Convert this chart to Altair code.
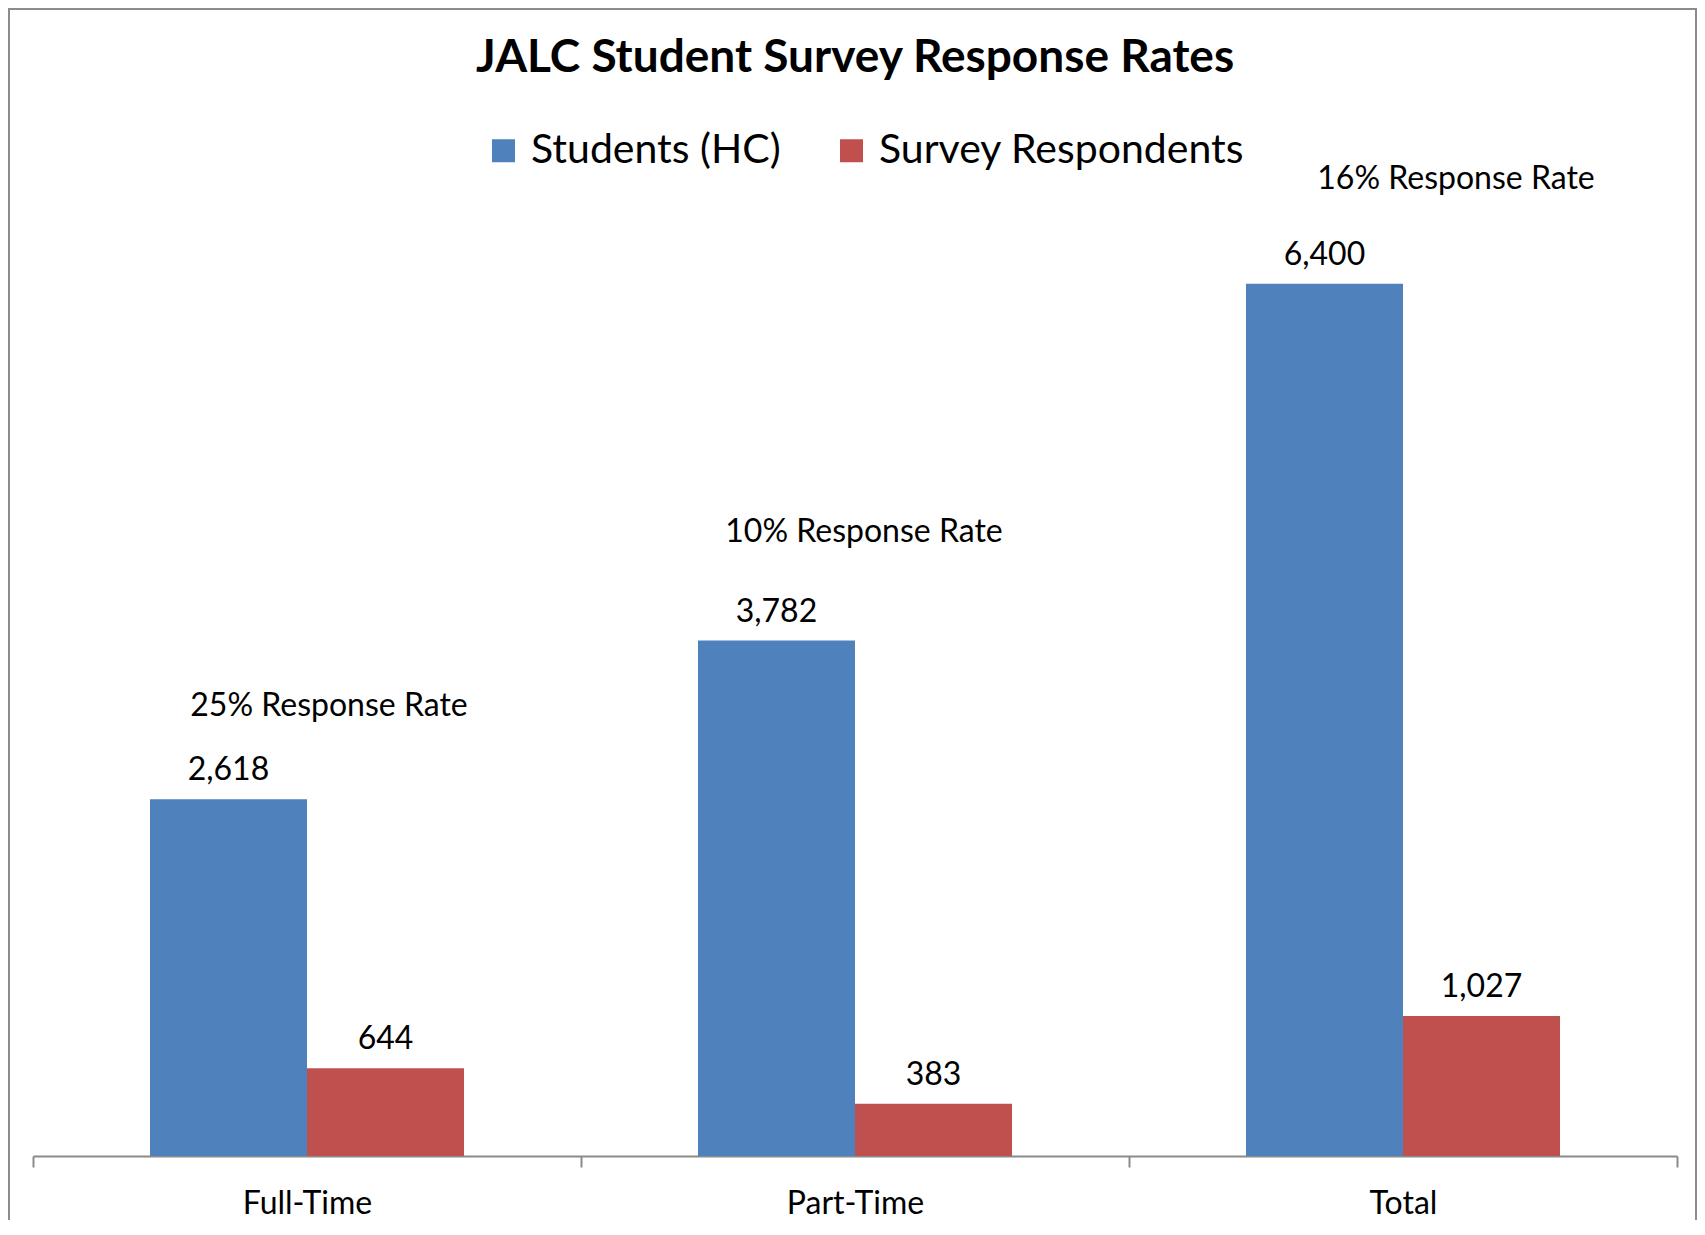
import altair as alt
import pandas as pd

# ---- data ----
categories = ["Full-Time", "Part-Time", "Total"]
students = [2618, 3782, 6400]
respondents = [644, 383, 1027]
series_names = ["Students (HC)", "Survey Respondents"]
rate_labels = ["25% Response Rate", "10% Response Rate", "16% Response Rate"]

# ---- style (pixel offsets of the free-floating rate labels) ----
rate_dx = [22, 9, 53]
rate_dy = [-93, -109, -105]
colors = ["#4F81BD", "#C0504D"]
FONT = "Lato"

rows = []
for c, s, r in zip(categories, students, respondents):
    rows.append({"cat": c, "series": series_names[0], "value": s, "label": f"{s:,}"})
    rows.append({"cat": c, "series": series_names[1], "value": r, "label": f"{r:,}"})
df = pd.DataFrame(rows)
rates = pd.DataFrame({"cat": categories, "value": students, "text": rate_labels})

x_enc = alt.X(
    "cat:N",
    sort=categories,
    scale=alt.Scale(paddingInner=0, paddingOuter=0),
    axis=alt.Axis(
        title=None,
        labelAngle=0,
        tickBand="extent",
        domainColor="#8a8a8a",
        domainWidth=2,
        tickColor="#8a8a8a",
        tickWidth=2,
        tickSize=11,
        labelFont=FONT,
        labelFontSize=32,
        labelColor="black",
        labelBaseline="middle",
        labelPadding=36,
        grid=False,
    ),
)
xoff_enc = alt.XOffset(
    "series:N", sort=series_names, scale=alt.Scale(paddingInner=0, paddingOuter=0.745)
)
y_enc = alt.Y("value:Q", scale=alt.Scale(domain=[0, 7000]), axis=None)

base = alt.Chart(df)

bars = base.mark_bar().encode(
    x=x_enc,
    xOffset=xoff_enc,
    y=y_enc,
    color=alt.Color(
        "series:N",
        sort=series_names,
        scale=alt.Scale(domain=series_names, range=colors),
        legend=alt.Legend(
            title=None,
            orient="none",
            legendX=450,
            legendY=-72,
            direction="horizontal",
            symbolType="square",
            symbolSize=529,
            symbolStrokeWidth=0,
            symbolOpacity=1,
            labelFont=FONT,
            labelFontSize=41,
            labelColor="black",
            labelOffset=7,
            labelLimit=0,
            columnPadding=50,
        ),
    ),
)

value_text = base.mark_text(
    font=FONT, fontSize=32, color="black", baseline="middle", dy=-29
).encode(x=x_enc, xOffset=xoff_enc, y=y_enc, text="label:N")

rate_layers = []
for i, c in enumerate(categories):
    rate_layers.append(
        alt.Chart(rates)
        .transform_filter(alt.datum.cat == c)
        .mark_text(
            font=FONT,
            fontSize=32,
            color="black",
            baseline="middle",
            dx=rate_dx[i],
            dy=rate_dy[i],
        )
        .encode(x=x_enc, y=y_enc, text="text:N")
    )

frame = (
    alt.Chart(pd.DataFrame({"f": [0]}))
    .mark_rect(fillOpacity=0, stroke="#8c8c8c", strokeWidth=2)
    .encode(
        x=alt.value(-24), x2=alt.value(1663), y=alt.value(-193), y2=alt.value(1100)
    )
)

chart = (
    alt.layer(frame, bars, value_text, *rate_layers)
    .properties(
        width=1644,
        height=954,
        autosize=alt.AutoSizeParams(type="none"),
        padding={"left": 25, "top": 194, "right": 20, "bottom": 64},
        title=alt.TitleParams(
            "JALC Student Survey Response Rates",
            font=FONT,
            fontSize=46,
            fontWeight="bold",
            color="black",
            anchor="middle",
            baseline="alphabetic",
            offset=-110,
        ),
    )
    .configure_view(strokeWidth=0)
)

chart.save("out.html", embed_options={"renderer": "svg", "actions": False})
